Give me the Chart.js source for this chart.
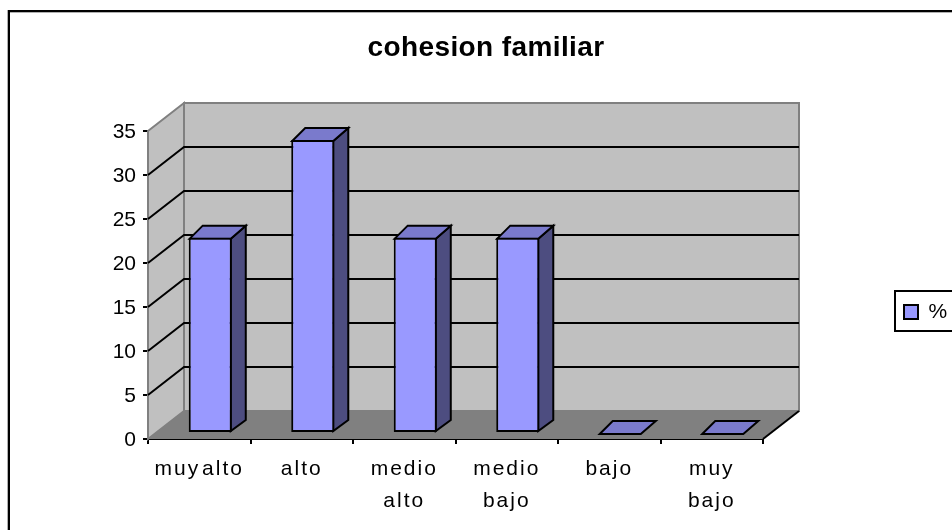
<!DOCTYPE html>
<html>
<head>
<meta charset="utf-8">
<style>
html,body{margin:0;padding:0;background:#fff;overflow:hidden}
#wrap{width:952px;height:530px;position:relative}
</style>
<script src="https://cdn.jsdelivr.net/npm/chart.js@4"></script>
</head>
<body>
<div id="wrap"><canvas id="c" width="952" height="530"></canvas></div>
<script>
const categories = [["muy alto"], ["alto"], ["medio", "alto"], ["medio", "bajo"], ["bajo"], ["muy", "bajo"]];
const seriesName = "%";
const values = [22.2, 33.3, 22.2, 22.2, 0, 0];
const titleText = "cohesion familiar";

const FONT = "'Liberation Sans', Arial, sans-serif";
const depthX = 36, depthY = -28;       // wall depth
const barShiftX = 11, barShiftY = -6;  // bars stand part-way into the floor
const barDepthX = 14, barDepthY = -12;

function poly(ctx, pts, fill, stroke, lw) {
  ctx.beginPath();
  pts.forEach((p, i) => i ? ctx.lineTo(p[0], p[1]) : ctx.moveTo(p[0], p[1]));
  ctx.closePath();
  if (fill) { ctx.fillStyle = fill; ctx.fill(); }
  if (stroke) { ctx.strokeStyle = stroke; ctx.lineWidth = lw; ctx.stroke(); }
}

function withSpacing(obj, method, ctx, letter, word) {
  if (obj["_w_" + method]) return;
  const orig = obj[method];
  obj["_w_" + method] = true;
  obj[method] = function (...a) {
    ctx.letterSpacing = letter; ctx.wordSpacing = word;
    orig.apply(this, a);
    ctx.letterSpacing = "0px"; ctx.wordSpacing = "0px";
  };
}

const scene = {
  id: "scene",
  afterLayout(chart) {
    const lg = chart.legend;
    lg.left = 894; lg.right = 960; lg.top = 292; lg.bottom = 332;
    const t = chart.titleBlock;
    t.left = 0; t.right = 972; t.width = 972;
    withSpacing(chart.scales.x, "drawLabels", chart.ctx, "2px", "-6px");
    withSpacing(t, "draw", chart.ctx, "0.4px", "0px");
  },
  beforeDatasetsDraw(chart) {
    const ctx = chart.ctx, x = chart.scales.x, y = chart.scales.y;
    const L = x.left, R = x.right, B = y.getPixelForValue(0), T = y.getPixelForValue(35);
    ctx.save();
    poly(ctx, [[L + depthX, T + depthY], [R + depthX, T + depthY], [R + depthX, B + depthY], [L + depthX, B + depthY]], "#C0C0C0", "#808080", 2);
    poly(ctx, [[L, T], [L + depthX, T + depthY], [L + depthX, B + depthY], [L, B]], "#C0C0C0", "#808080", 2);
    poly(ctx, [[L, B], [L + depthX, B + depthY], [R + depthX, B + depthY], [R, B]], "#808080", null, 0);
    ctx.strokeStyle = "#000"; ctx.lineWidth = 2;
    y.ticks.forEach(t => {
      if (t.value === 0 || t.value === 35) return;
      const p = y.getPixelForValue(t.value);
      ctx.beginPath();
      ctx.moveTo(L, p); ctx.lineTo(L + depthX, p + depthY); ctx.lineTo(R + depthX, p + depthY);
      ctx.stroke();
    });
    ctx.beginPath(); ctx.moveTo(R, B); ctx.lineTo(R + depthX, B + depthY); ctx.stroke();
    ctx.restore();

    const meta = chart.getDatasetMeta(0);
    ctx.save();
    ctx.translate(barShiftX, barShiftY);
    meta.data.forEach(b => {
      const hw = b.width / 2, xl = b.x - hw, xr = b.x + hw, yt = b.y, yb = b.base;
      if (yb - yt > 0.5) {
        poly(ctx, [[xr - 1, yt + 1], [xr + barDepthX, yt + barDepthY], [xr + barDepthX, yb + barDepthY], [xr - 1, yb - 1]], "#4D4D80", "#000", 2);
      }
      poly(ctx, [[xl + 1, yt + 1], [xl + barDepthX, yt + barDepthY], [xr + barDepthX, yt + barDepthY], [xr - 1, yt + 1]], "#7A7ACC", "#000", 2);
    });
    ctx.restore();
    ctx.save();
    ctx.translate(barShiftX, barShiftY);
  },
  afterDatasetsDraw(chart) {
    chart.ctx.restore();
  },
  afterDraw(chart) {
    const ctx = chart.ctx;
    ctx.save();
    ctx.strokeStyle = "#000"; ctx.lineWidth = 2;
    ctx.strokeRect(895, 291, 80, 40);
    ctx.strokeRect(9, 11, 1000, 1000);
    ctx.fillStyle = "#B0B0B0";
    ctx.fillRect(10, 12, 942, 1);
    ctx.fillRect(7, 10, 1, 520);
    ctx.restore();
  }
};

new Chart(document.getElementById("c"), {
  type: "bar",
  data: {
    labels: categories,
    datasets: [{
      label: seriesName,
      data: values,
      backgroundColor: "#9999FF",
      borderColor: "#000",
      borderWidth: 2,
      borderSkipped: false,
      barPercentage: 0.42,
      categoryPercentage: 1,
      clip: false
    }]
  },
  options: {
    responsive: false,
    animation: false,
    layout: { padding: { top: 0, left: 0, right: 189, bottom: 0 } },
    plugins: {
      title: {
        display: true,
        text: titleText,
        color: "#000",
        font: { family: FONT, size: 28, weight: "bold" },
        padding: { top: 31, bottom: 66.4 }
      },
      legend: {
        display: true,
        position: "chartArea",
        labels: {
          color: "#000",
          font: { family: FONT, size: 21 },
          boxWidth: 14, boxHeight: 14, padding: 10
        }
      },
      tooltip: { enabled: false }
    },
    scales: {
      x: {
        afterFit: s => { s.height = 91; },
        grid: { display: true, drawOnChartArea: false, drawTicks: true, tickLength: 5, color: "#000", lineWidth: 2, offset: true },
        border: { display: true, color: "#000", width: 2 },
        ticks: { color: "#000", font: { family: FONT, size: 21, lineHeight: 1.52 }, maxRotation: 0, autoSkip: false, padding: 9 }
      },
      y: {
        min: 0, max: 35,
        afterFit: s => { s.width = 148; },
        grid: { display: true, drawOnChartArea: false, drawTicks: true, tickLength: 5, color: "#000", lineWidth: 2 },
        border: { display: true, color: "#000", width: 2 },
        ticks: { stepSize: 5, color: "#000", font: { family: FONT, size: 21 }, padding: 7, labelOffset: 1 }
      }
    }
  },
  plugins: [scene]
});
</script>
</body>
</html>
